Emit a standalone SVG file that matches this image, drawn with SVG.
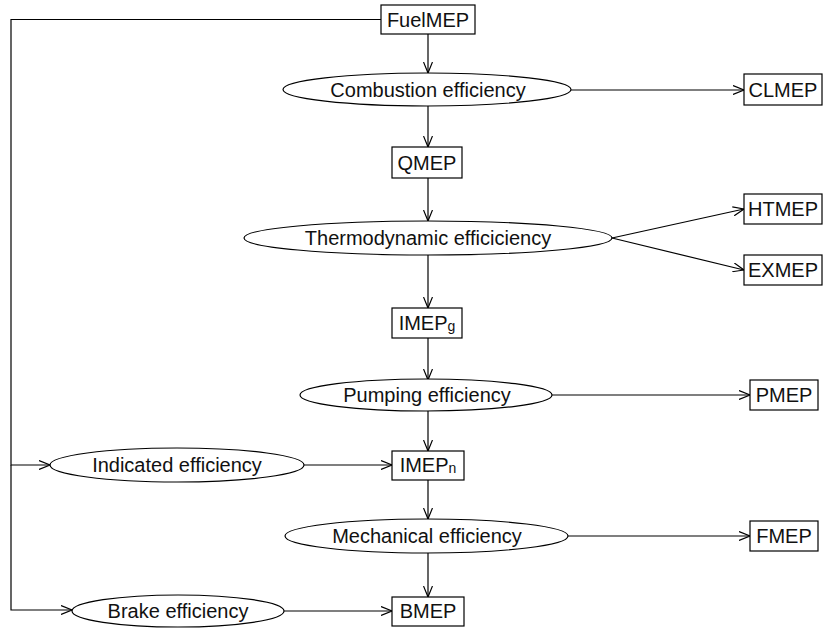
<svg xmlns="http://www.w3.org/2000/svg" width="823" height="633" viewBox="0 0 823 633">
<style>
.n rect,.n ellipse{fill:#fff;stroke:#000;stroke-width:1.2}
text{font-family:"Liberation Sans",Arial,sans-serif;font-size:20px;fill:#111;text-anchor:middle;dominant-baseline:central}
.sub{font-size:14px}
.e line,.e polyline{stroke:#000;stroke-width:1.2;fill:none;marker-end:url(#a)}
</style>
<defs>
<marker id="a" markerWidth="12" markerHeight="10" refX="11" refY="5" orient="auto" markerUnits="userSpaceOnUse">
<path d="M0,0.5 L11,5 L0,9.5" fill="none" stroke="#000" stroke-width="1.2"/>
</marker>
</defs>
<g class="e">
<polyline points="381,19.5 11,19.5 11,465 50,465"/>
<polyline points="11,465 11,610 72,610"/>
<line x1="428" y1="34" x2="428" y2="73"/>
<line x1="571" y1="90" x2="744" y2="90"/>
<line x1="428" y1="106" x2="428" y2="147"/>
<line x1="428" y1="178" x2="428" y2="221"/>
<line x1="612" y1="238" x2="744" y2="209"/>
<line x1="612" y1="238" x2="744" y2="270"/>
<line x1="428" y1="255" x2="428" y2="308"/>
<line x1="428" y1="338" x2="428" y2="380"/>
<line x1="552" y1="395" x2="750" y2="395"/>
<line x1="428" y1="411" x2="428" y2="451"/>
<line x1="304" y1="465" x2="392" y2="465"/>
<line x1="428" y1="480" x2="428" y2="519"/>
<line x1="568" y1="536" x2="750" y2="536"/>
<line x1="428" y1="553" x2="428" y2="597"/>
<line x1="284" y1="611" x2="392" y2="611"/>
</g>
<g id="fuelmep" class="n"><rect x="381" y="5" width="94" height="29"/><text x="428" y="20">FuelMEP</text></g>
<g id="combustion" class="n"><ellipse cx="427" cy="89.5" rx="144" ry="16.5"/><text x="428" y="90">Combustion efficiency</text></g>
<g id="clmep" class="n"><rect x="744" y="74" width="78" height="31"/><text x="783" y="90">CLMEP</text></g>
<g id="qmep" class="n"><rect x="392" y="147" width="70" height="31"/><text x="427" y="163">QMEP</text></g>
<g id="thermo" class="n"><ellipse cx="428" cy="238" rx="184" ry="17"/><text x="428" y="238">Thermodynamic efficiciency</text></g>
<g id="htmep" class="n"><rect x="744" y="194" width="78" height="30"/><text x="783" y="209">HTMEP</text></g>
<g id="exmep" class="n"><rect x="744" y="255" width="78" height="30"/><text x="783" y="270">EXMEP</text></g>
<g id="imepg" class="n"><rect x="392" y="308" width="70" height="30"/><text x="427" y="323">IMEP<tspan class="sub" dy="3">g</tspan></text></g>
<g id="pumping" class="n"><ellipse cx="426" cy="395" rx="126" ry="16"/><text x="427" y="395">Pumping efficiency</text></g>
<g id="pmep" class="n"><rect x="750" y="380" width="68" height="30"/><text x="784" y="395">PMEP</text></g>
<g id="indicated" class="n"><ellipse cx="177" cy="465" rx="127" ry="17"/><text x="177" y="465">Indicated efficiency</text></g>
<g id="imepn" class="n"><rect x="392" y="451" width="72" height="29"/><text x="428" y="465">IMEP<tspan class="sub" dy="3">n</tspan></text></g>
<g id="mechanical" class="n"><ellipse cx="426.5" cy="536" rx="141.5" ry="17"/><text x="427" y="536">Mechanical efficiency</text></g>
<g id="fmep" class="n"><rect x="750" y="521" width="68" height="30"/><text x="784" y="536">FMEP</text></g>
<g id="brake" class="n"><ellipse cx="178" cy="611" rx="106" ry="16"/><text x="178" y="611">Brake efficiency</text></g>
<g id="bmep" class="n"><rect x="392" y="597" width="72" height="29"/><text x="428" y="611">BMEP</text></g>
</svg>
